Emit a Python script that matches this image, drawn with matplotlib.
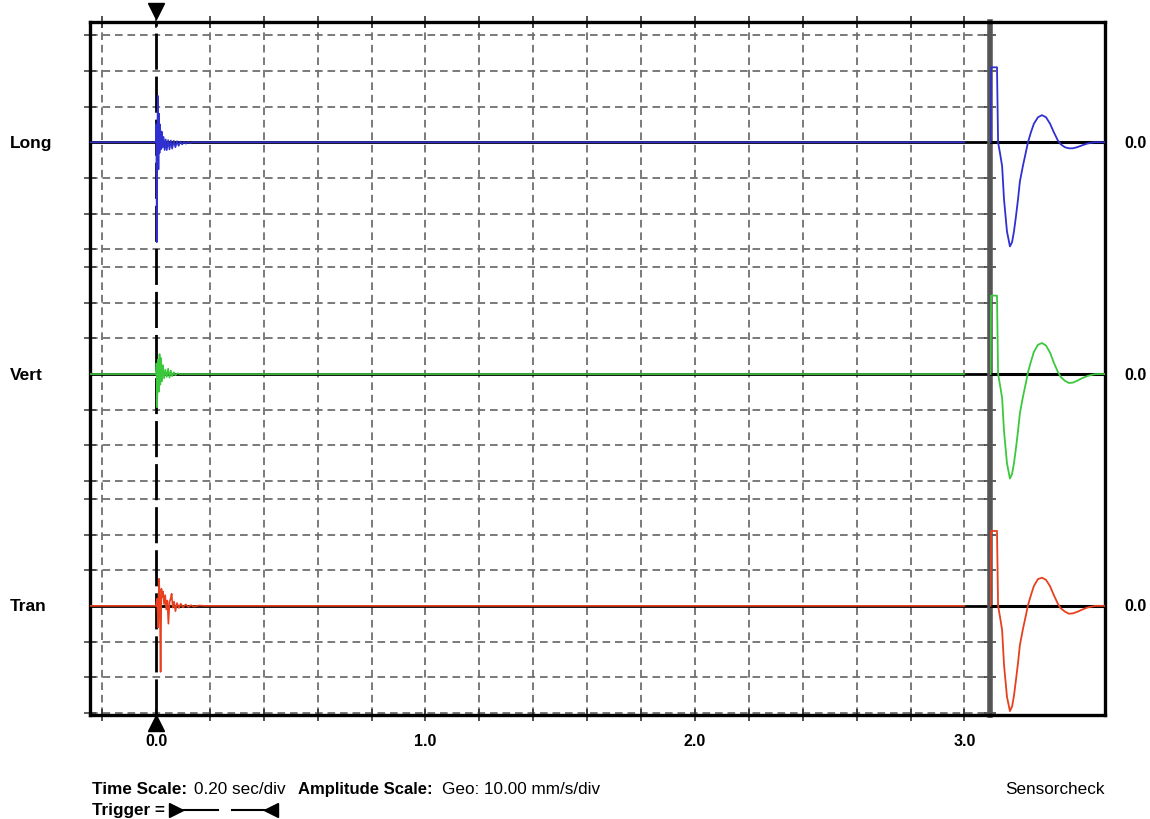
import numpy as np
import matplotlib.pyplot as plt
from matplotlib.lines import Line2D
from matplotlib.transforms import blended_transform_factory

plt.rcParams['font.family'] = ['Liberation Sans', 'DejaVu Sans']
plt.rcParams['lines.scale_dashes'] = False

W, H = 1150, 820

channels = ['Long', 'Vert', 'Tran']
colors = ['#3030d0', '#3cc83c', '#e8401e']
offsets = [0.0, -6.5, -13.0]      # zero line of each channel (divisions)
amp_scale = 10.0                  # mm/s per division
time_scale = 0.20                 # s per division

# event record: time (s), velocity (mm/s)
long_t = [-0.245, -0.02, 0.000, 0.001, 0.003, 0.005, 0.007, 0.009, 0.011, 0.013,
          0.015, 0.018, 0.021, 0.024, 0.028, 0.032, 0.036, 0.040, 0.045, 0.050,
          0.055, 0.060, 0.066, 0.072, 0.078, 0.084, 0.090, 0.097, 0.104, 0.111,
          0.118, 0.126, 0.135, 0.150, 3.000]
long_v = [0.0, 0.0, 0.0, 5.0, -28.0, 4.0, 13.0, -7.6, 8.0, -3.0,
          5.0, -2.0, 3.0, -1.5, 1.5, -2.2, 0.8, -2.2, 0.6, -2.0,
          0.5, -1.8, 0.4, -1.4, 0.3, -1.0, 0.2, -0.6, 0.1, -0.4,
          0.1, -0.2, 0.0, 0.0, 0.0]

vert_t = [-0.245, -0.02, 0.000, 0.002, 0.004, 0.007, 0.010, 0.013, 0.016, 0.019,
          0.022, 0.026, 0.030, 0.035, 0.040, 0.045, 0.050, 0.055, 0.060, 0.066,
          0.072, 0.080, 0.090, 3.000]
vert_v = [0.0, 0.0, 0.0, 3.0, -9.3, 4.0, -5.0, 5.6, -3.0, 4.5,
          -2.0, 2.5, -1.2, 1.2, -0.8, 1.5, -1.0, 1.0, -0.6, 0.5,
          -0.3, 0.2, 0.0, 0.0]

tran_t = [-0.245, -0.02, 0.000, 0.004, 0.008, 0.011, 0.014, 0.017, 0.020, 0.023,
          0.026, 0.030, 0.034, 0.038, 0.042, 0.046, 0.050, 0.054, 0.058, 0.062,
          0.067, 0.072, 0.078, 0.085, 0.092, 0.100, 0.110, 0.120, 0.130, 0.140,
          0.160, 0.180, 3.000]
tran_v = [0.0, 0.0, 0.0, 2.0, -6.0, 7.6, 2.0, -18.5, 4.8, 2.5,
          4.0, 0.5, 3.0, -1.0, 1.5, -5.0, 1.0, 2.0, 3.4, -0.5,
          1.2, -1.5, 0.8, -0.6, 0.6, -0.4, 0.4, -0.3, 0.2, -0.2,
          0.1, 0.0, 0.0]

# sensor check: time (ms), velocity (mm/s)
sc_t = [2, 4, 26, 30, 37, 45, 52, 63, 74, 82, 89, 96, 104, 111, 122, 134, 141,
        152, 163, 178, 193, 208, 223, 237, 252, 263, 278, 293, 308, 323, 341,
        360, 378, 393, 427]
sc_long = [0, 21, 21, 0, -3, -6.7, -16, -25, -29.2, -28, -25, -21, -16, -11,
           -6.7, -2.5, 0, 2.8, 5.2, 7.0, 7.6, 7.0, 5.2, 2.8, 0.5, -0.6, -1.4,
           -1.7, -1.7, -1.4, -0.9, -0.4, -0.1, 0, 0]
sc_vert = [0, 22, 22, 0, -3, -6.7, -16, -25, -29.3, -28, -25, -21, -16, -11,
           -6.5, -2.2, 0.5, 3.5, 6.2, 8.2, 8.7, 8.0, 6.0, 3.2, 0.6, -0.8, -1.9,
           -2.5, -2.4, -1.9, -1.2, -0.6, -0.2, 0, 0]
sc_tran = [0, 21, 21, 0, -3, -6.8, -16.5, -25.5, -29.5, -28.2, -25.2, -21, -16,
           -11, -6.6, -2.4, 0.2, 3.0, 5.6, 7.5, 7.9, 7.3, 5.5, 3.0, 0.6, -0.7,
           -1.6, -2.2, -2.1, -1.7, -1.1, -0.5, -0.2, 0, 0]

x_ticks = [-0.2, 0.0, 0.2, 0.4, 0.6, 0.8, 1.0, 1.2, 1.4, 1.6, 1.8, 2.0,
           2.2, 2.4, 2.6, 2.8, 3.0]
x_ticklabels = ['', '0.0', '', '', '', '', '1.0', '', '', '', '', '2.0',
                '', '', '', '', '3.0']

event_t = [long_t, vert_t, tran_t]
event_v = [long_v, vert_v, tran_v]
sc_v = [sc_long, sc_vert, sc_tran]

grid_col = '#707070'
grid_dash = (5.5, 3.5)
fs = 12.3

fig = plt.figure(figsize=(W / 100, H / 100), dpi=100)
ax = fig.add_axes([90 / W, 1 - 716 / H, 900 / W, (716 - 22.7) / H])
ax2 = fig.add_axes([990 / W, 1 - 716 / H, 115 / W, (716 - 22.7) / H])

ylim = (-16.06, 3.38)
ax.set_xlim(-0.245, 3.095)
ax.set_ylim(*ylim)
ax2.set_xlim(0, 427)
ax2.set_ylim(*ylim)

# grid, one band of +-3 div per channel
grid_levels = []
for off in offsets:
    for k in [-3, -2, -1, 1, 2, 3]:
        grid_levels.append(off + k)
for y in grid_levels:
    ax.axhline(y, color=grid_col, lw=1.3, dashes=grid_dash, zorder=1)
for x in x_ticks:
    if x != 0.0:
        ax.axvline(x, color=grid_col, lw=1.3, dashes=grid_dash, zorder=1)

# trigger line
ax.axvline(0.0, color='black', lw=2.0, dashes=(26, 5), zorder=3)

# traces
for off, c, t, v in zip(offsets, colors, event_t, event_v):
    ax.axhline(off, color='black', lw=2.0, zorder=2)
    ax.plot(t, np.array(v) / amp_scale + off, color=c, lw=1.2, zorder=4)

for off, c, v in zip(offsets, colors, sc_v):
    ax2.axhline(off, color='black', lw=2.2, zorder=2)
    ax2.plot(sc_t, np.array(v) / amp_scale + off, color=c, lw=1.3, zorder=4)

# ticks and frame
ax.set_xticks(x_ticks)
ax.set_xticklabels(x_ticklabels, fontweight='bold', fontsize=11.5)
ax.tick_params(axis='x', direction='inout', length=8, width=1.2,
               colors='#333333', labelcolor='black', top=True, pad=9)
ax.set_yticks(grid_levels)
ax.set_yticklabels([])
ax.tick_params(axis='y', direction='inout', length=8, width=1.2,
               colors='#444444', right=True)
for s in ['left', 'top', 'bottom']:
    ax.spines[s].set_linewidth(2.4)
    ax.spines[s].set_color('black')
ax.spines['right'].set_linewidth(4)
ax.spines['right'].set_color('#555555')

ax2.set_xticks([])
ax2.set_yticks([])
ax2.spines['left'].set_visible(False)
for s in ['top', 'right', 'bottom']:
    ax2.spines[s].set_linewidth(2.4)
    ax2.spines[s].set_color('black')
ax2.patch.set_alpha(0)

# trigger markers
tr = blended_transform_factory(ax.transData, ax.transAxes)
ax.plot([0.0], [1.016], marker='v', ms=11, color='black', transform=tr, clip_on=False)
ax.plot([0.0], [-0.012], marker='^', ms=11, color='black', transform=tr, clip_on=False)

# channel names and zero labels
tl = blended_transform_factory(ax.transAxes, ax.transData)
tr2 = blended_transform_factory(ax2.transAxes, ax2.transData)
for name, off in zip(channels, offsets):
    ax.text(-0.089, off, name, transform=tl, ha='left', va='center',
            fontweight='bold', fontsize=12.5)
    ax2.text(1.165, off, '0.0', transform=tr2, ha='left', va='center',
             fontweight='bold', fontsize=11.5)

# footer
def ftext(x, y, s, size=fs, **kw):
    fig.text(x / W, 1 - y / H, s, va='center', fontsize=size, **kw)

ftext(92, 790, 'Time Scale:', fontweight='bold')
ftext(194, 790, '%.2f sec/div' % time_scale)
ftext(298, 790, 'Amplitude Scale:', size=12, fontweight='bold')
ftext(442, 790, 'Geo: %.2f mm/s/div' % amp_scale)
ftext(92, 811, 'Trigger =', fontweight='bold')
ftext(1105, 790, 'Sensorcheck', ha='right')

fig.add_artist(Line2D([172 / W, 218 / W], [1 - 811 / H] * 2, color='black',
                      lw=1.5, transform=fig.transFigure))
fig.add_artist(Line2D([176 / W], [1 - 811 / H], marker='>', ms=10, color='black',
                      transform=fig.transFigure))
fig.add_artist(Line2D([232 / W, 274 / W], [1 - 811 / H] * 2, color='black',
                      lw=1.5, transform=fig.transFigure))
fig.add_artist(Line2D([271 / W], [1 - 811 / H], marker='<', ms=10, color='black',
                      transform=fig.transFigure))

fig.savefig('out.png', dpi=100)
